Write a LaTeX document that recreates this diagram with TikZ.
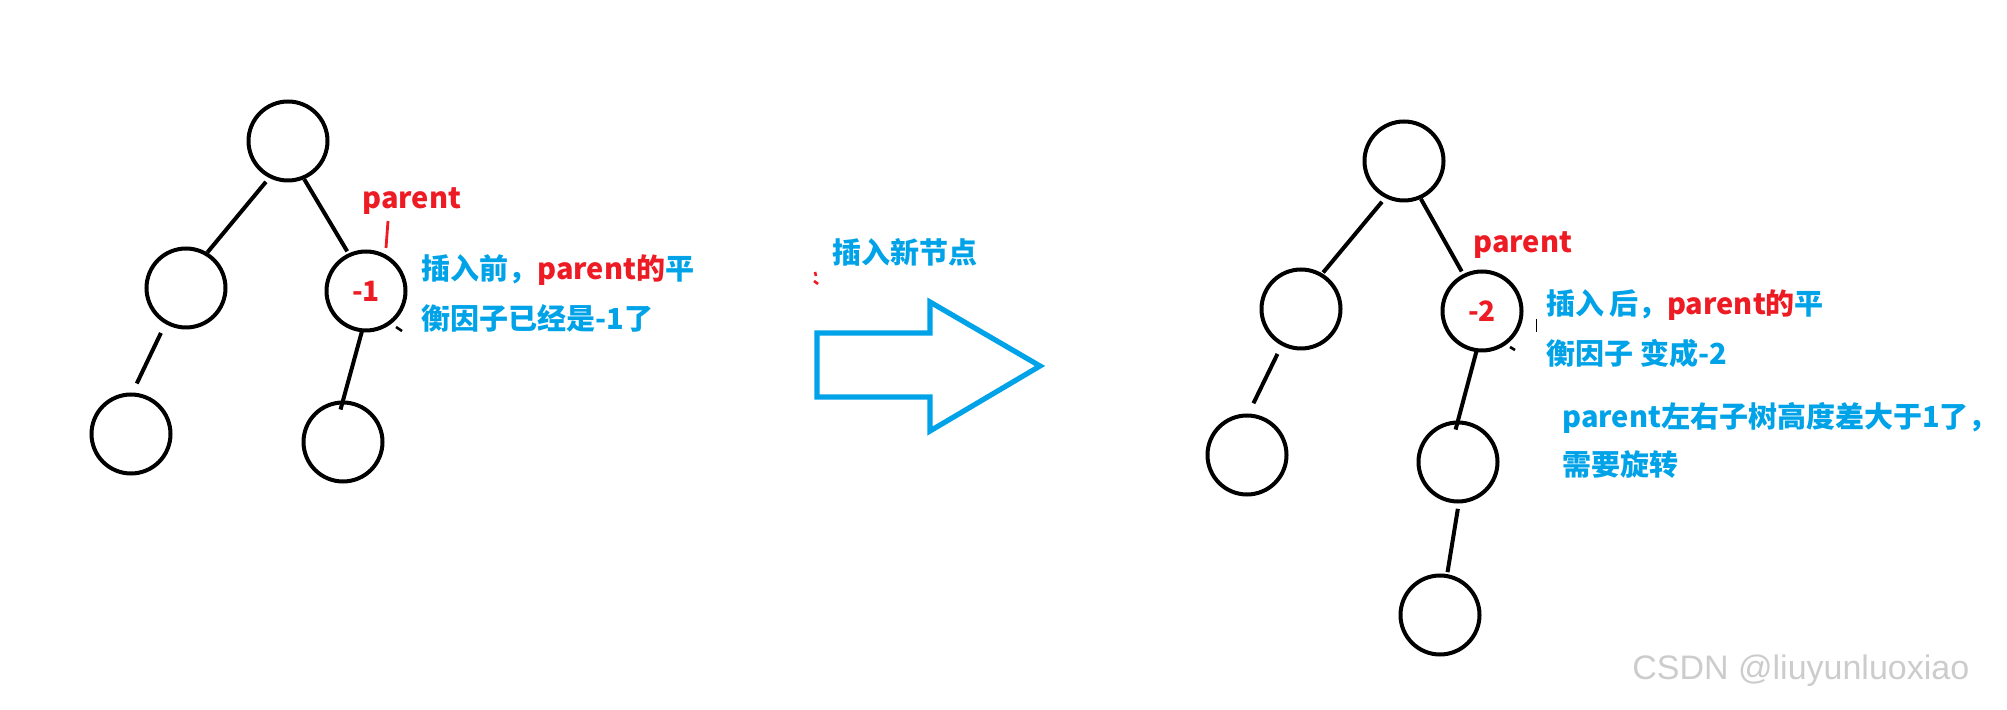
\documentclass[tikz,border=0pt]{standalone}
\usepackage{fontspec}
\newfontfamily\cjk{Noto Sans CJK SC}
\newfontfamily\wmark{Liberation Sans}
\usetikzlibrary{positioning}

\definecolor{myblue}{HTML}{00A2E8}
\definecolor{myred}{HTML}{ED1C24}

\tikzset{
  bnode/.style={circle, draw, line width=2pt, minimum size=39.5pt, inner sep=0pt,
    text=myred, font=\cjk\bfseries\fontsize{14}{16}\selectfont},
  treeline/.style={line width=2pt},
  note/.style={anchor=west, inner sep=0pt, text=myblue,
    font=\cjk\bfseries\fontsize{14.5}{17}\selectfont},
  redlabel/.style={note, text=myred}
}

\begin{document}
\begin{tikzpicture}[x=0.5pt, y=-0.5pt]
\useasboundingbox (0,0) rectangle (2007,710);

% before insertion
\node[bnode] (lroot) at (288,141) {};
\node[bnode] (ll) at (186,288) {};
\node[bnode] (lr) at (366,291) {-1};
\node[bnode] (lll) at (131,434) {};
\node[bnode] (lrr) at (343,442) {};

% hand drawn: lines stop short of (or run into) the circles
\foreach \a/\sa/\b/\sb/\ga/\gb in {lroot/243/ll/59/2.5pt/0pt, lroot/293/lr/115/0pt/1.2pt,
    ll/240/lll/88/5pt/5pt, lr/264/lrr/90/-1.7pt/-4.7pt}
  \draw[treeline, shorten <=\ga, shorten >=\gb] (\a.\sa) -- (\b.\sb);

\node[redlabel] (lpar) at (362,201) {parent};
\coordinate (ltick1) at (388,221);
\coordinate (ltick2) at (386,248);
\draw[myred, line width=1.4pt] (ltick1) -- (ltick2);
\coordinate (lmark1) at (396,327);
\coordinate (lmark2) at (402,331);
\draw[line width=1.3pt] (lmark1) -- (lmark2);

\node[note] (lnote1) at (421,270) {插入前，{\color{myred}parent的}平};
\node[note] (lnote2) at (421,318) {衡因子已经是-1了};

% arrow
\node[note] (ins) at (832,252) {插入新节点};
\coordinate (rdash1) at (815,272);
\coordinate (rdash2) at (816,276);
\coordinate (rdash3) at (814,281);
\coordinate (rdash4) at (818,284);
\draw[myred, line width=1.3pt] (rdash1) -- (rdash2) (rdash3) -- (rdash4);
\draw[myblue, line width=2.6pt] (817,333) -- (930,333) -- (930,302) -- (1040,366)
  -- (930,431) -- (930,397) -- (817,397) -- cycle;

% after insertion
\node[bnode] (rroot) at (1404,161) {};
\node[bnode] (rl) at (1301,309) {};
\node[bnode] (rr) at (1482,311) {-2};
\node[bnode] (rll) at (1247,455) {};
\node[bnode] (rrr) at (1458,462) {};
\node[bnode] (rrrr) at (1440,615) {};

\foreach \a/\sa/\b/\sb/\ga/\gb in {rroot/243/rl/59/2.5pt/0.6pt, rroot/294/rr/117/0pt/1.5pt,
    rl/242/rll/88/4.6pt/5.7pt, rr/262/rrr/90/-1.6pt/-4.7pt, rrr/271/rrrr/80/2.7pt/1pt}
  \draw[treeline, shorten <=\ga, shorten >=\gb] (\a.\sa) -- (\b.\sb);

\node[redlabel] (rpar) at (1473,245) {parent};
\coordinate (rmark1) at (1510,347);
\coordinate (rmark2) at (1515,350);
\draw[line width=1.3pt] (rmark1) -- (rmark2);
\coordinate (rbar1) at (1536,319);
\coordinate (rbar2) at (1536,332);
\draw[line width=0.5pt] (rbar1) -- (rbar2);

\node[note] (rnote1) at (1546,305) {插入\,后，{\color{myred}parent的}平};
\node[note] (rnote2) at (1546,353) {衡因子 变成-2};
\node[note] (rnote3) at (1562,418) {parent左右子树高度差大于1了，};
\node[note] (rnote4) at (1562,465) {需要旋转};

% watermark
\node[anchor=west, inner sep=0pt, text=gray!40, font=\wmark\fontsize{17}{20}\selectfont]
  (wm) at (1632,671) {CSDN @liuyunluoxiao};

\end{tikzpicture}
\end{document}
